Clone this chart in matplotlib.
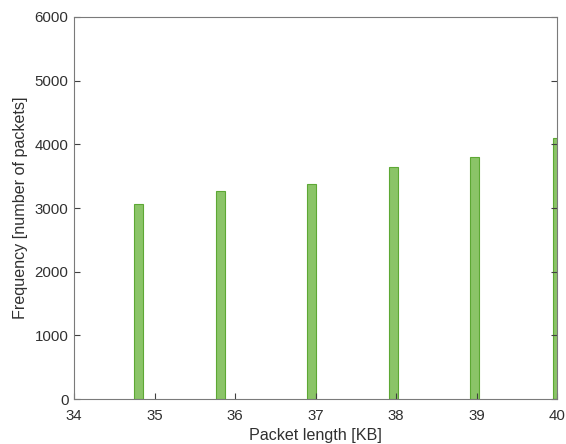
import matplotlib
matplotlib.use("Agg")
import matplotlib.pyplot as plt

# packet length bins (KB) and counts
bin_centers = [34.80, 35.82, 36.945, 37.965, 38.98, 40.0]
counts = [3063, 3272, 3377, 3639, 3796, 4104]
bin_width = 0.11

x_ticks = [34, 35, 36, 37, 38, 39, 40]
y_ticks = [0, 1000, 2000, 3000, 4000, 5000, 6000]

plt.rcParams['font.family'] = ['Liberation Sans', 'DejaVu Sans']

fig = plt.figure(figsize=(5.66, 4.44), dpi=100)
ax = fig.add_axes([74 / 566, 1 - 399 / 444, 483 / 566, 382 / 444])

ax.bar(bin_centers, counts, width=bin_width, color="#8BC468",
       edgecolor="#5DA834", linewidth=0.8)

ax.set_xlim(34, 40)
ax.set_ylim(0, 6000)
ax.set_xticks(x_ticks)
ax.set_yticks(y_ticks)

AX_COLOR = "#7a7a7a"
for s in ax.spines.values():
    s.set_color(AX_COLOR)
    s.set_linewidth(0.8)
ax.tick_params(direction="in", length=4, width=0.8, color="#404040",
               labelcolor="#303030", labelsize=10.8, top=False, right=True)
ax.tick_params(axis="x", pad=7)
ax.tick_params(axis="y", pad=4)

ax.set_xlabel("Packet length [KB]", fontsize=11.6, color="#303030", labelpad=4)
ax.set_ylabel("Frequency [number of packets]", fontsize=11.6, color="#303030", labelpad=5)

fig.savefig("out.png", dpi=100)
